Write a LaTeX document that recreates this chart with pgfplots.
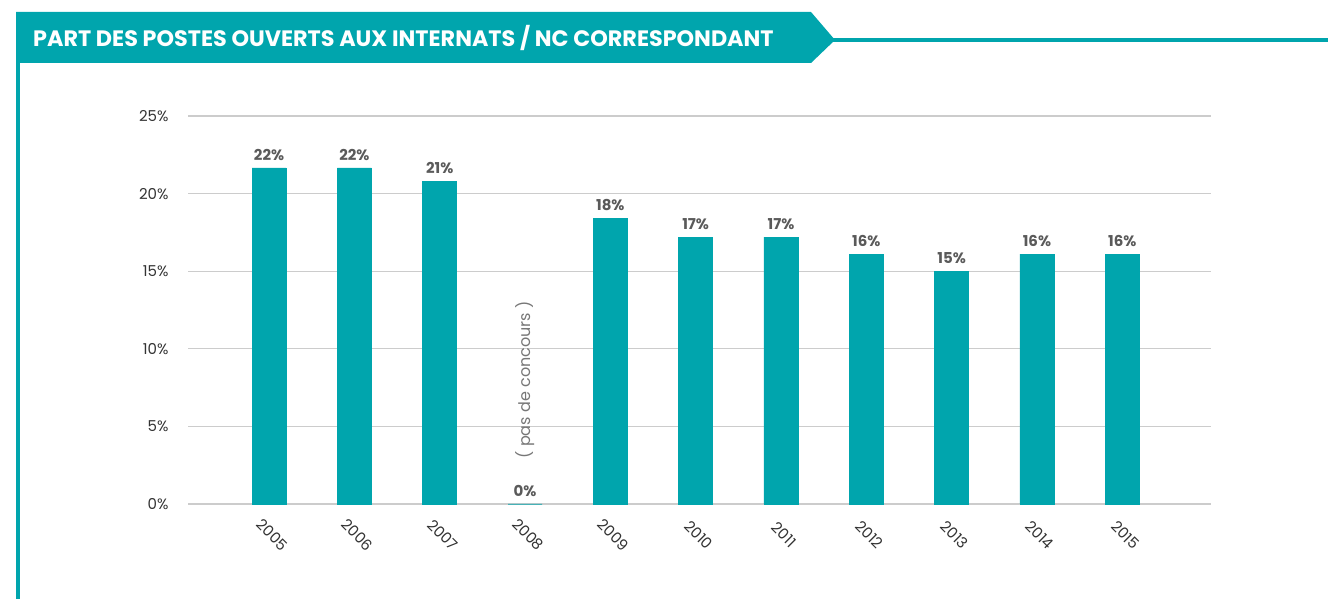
\documentclass[border=0pt]{standalone}
\usepackage{pgfplots}
\pgfplotsset{compat=1.18}
\usepackage{fontspec}
\setmainfont{Poppins}
\definecolor{tealc}{HTML}{00A5AD}
\definecolor{lblgray}{HTML}{5A5A5A}
\definecolor{tickgray}{HTML}{333333}
\definecolor{gridgray}{HTML}{CCCCCC}
\definecolor{notegray}{HTML}{777777}
\begin{document}
\begin{tikzpicture}[x=1pt,y=1pt]
\useasboundingbox (0,0) rectangle (1328,599);
\fill[tealc] (16,587) -- (811,587) -- (835,559) -- (811,536) -- (16,536) -- cycle;
\fill[tealc] (830,557.3) rectangle (1328,560.7);
\fill[tealc] (16,0) rectangle (19.5,536);
\node[anchor=base west, text=white, font=\fontsize{22.3}{26}\selectfont\bfseries, inner sep=0] at (33,552) {PART DES POSTES OUVERTS AUX INTERNATS / NC CORRESPONDANT};
\begin{axis}[
  at={(188pt,95pt)}, anchor=south west,
  scale only axis, width=1023pt, height=388pt,
  xmin=-0.95, xmax=11.04, ymin=0, ymax=25,
  clip=false,
  axis line style={draw=none},
  major tick length=0pt,
  ymajorgrids, major grid style={draw=gridgray, line width=1.2pt},
  ytick={0,5,10,15,20,25},
  yticklabels={0\%,5\%,10\%,15\%,20\%,25\%},
  yticklabel style={anchor=east, xshift=-16pt, text=tickgray, font=\fontsize{15}{18}\selectfont},
  xtick={0,...,10},
  xticklabels={2005,2006,2007,2008,2009,2010,2011,2012,2013,2014,2015},
  xticklabel style={rotate=-45, anchor=center, xshift=24pt, yshift=-19.5pt, text=tickgray, font=\fontsize{15}{18}\selectfont},
  nodes near coords,
  point meta=explicit symbolic,
  nodes near coords style={anchor=south, yshift=4pt, text=lblgray, font=\fontsize{15}{17}\selectfont\bfseries},
]
\addplot[ybar, bar width=34pt, fill=tealc, draw=tealc, line width=0.8pt] coordinates {
  (0,21.65) [22\%]
  (1,21.65) [22\%]
  (2,20.8) [21\%]
  (3,0) [0\%]
  (4,18.4) [18\%]
  (5,17.2) [17\%]
  (6,17.2) [17\%]
  (7,16.1) [16\%]
  (8,15.0) [15\%]
  (9,16.1) [16\%]
  (10,16.1) [16\%]
};
\node[rotate=90, text=notegray, font=\fontsize{16}{19}\selectfont] at (axis cs:3,8.0) {( pas de concours )};
\end{axis}
\end{tikzpicture}
\end{document}
